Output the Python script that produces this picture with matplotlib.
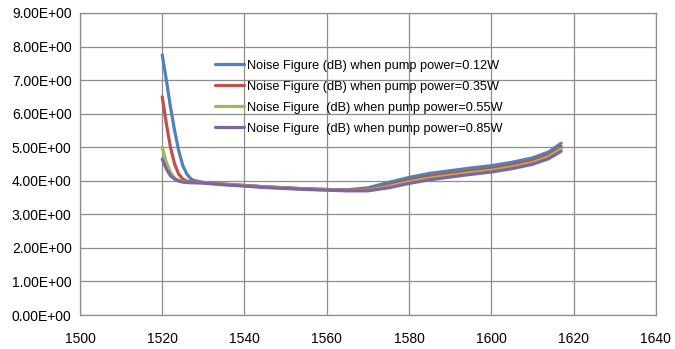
import matplotlib
matplotlib.use("Agg")
import matplotlib.pyplot as plt
from matplotlib.ticker import FuncFormatter

plt.rcParams['font.family'] = ['Liberation Sans', 'DejaVu Sans']

# wavelength (nm)
wl = [1520, 1521, 1522, 1523, 1524, 1525, 1526, 1527, 1528, 1530, 1535, 1540, 1545, 1550,
      1555, 1560, 1565, 1570, 1575, 1580, 1585, 1590, 1595, 1600, 1605, 1610, 1614, 1617]

nf_012 = [7.75, 7.00, 6.20, 5.50, 4.90, 4.45, 4.20, 4.05, 4.00, 3.95, 3.90, 3.86, 3.82, 3.79,
          3.76, 3.74, 3.73, 3.79, 3.95, 4.10, 4.22, 4.30, 4.38, 4.45, 4.55, 4.68, 4.86, 5.12]
nf_035 = [6.50, 5.70, 5.00, 4.50, 4.20, 4.05, 3.99, 3.97, 3.96, 3.95, 3.90, 3.86, 3.82, 3.79,
          3.76, 3.74, 3.72, 3.74, 3.88, 4.02, 4.14, 4.22, 4.30, 4.37, 4.47, 4.60, 4.78, 5.02]
nf_055 = [5.00, 4.55, 4.25, 4.08, 4.01, 3.98, 3.96, 3.95, 3.95, 3.94, 3.89, 3.85, 3.81, 3.78,
          3.75, 3.73, 3.71, 3.72, 3.83, 3.97, 4.08, 4.16, 4.24, 4.31, 4.41, 4.54, 4.72, 4.95]
nf_085 = [4.65, 4.35, 4.15, 4.05, 3.99, 3.96, 3.95, 3.94, 3.94, 3.93, 3.88, 3.84, 3.80, 3.77,
          3.74, 3.72, 3.70, 3.70, 3.79, 3.92, 4.03, 4.11, 4.19, 4.26, 4.36, 4.49, 4.66, 4.88]

labels = ["Noise Figure (dB) when pump power=0.12W",
          "Noise Figure (dB) when pump power=0.35W",
          "Noise Figure  (dB) when pump power=0.55W",
          "Noise Figure  (dB) when pump power=0.85W"]
colors = ["#4F81BD", "#C0504D", "#9BBB59", "#8064A2"]

fig = plt.figure(figsize=(6.75, 3.49), dpi=100)
ax = fig.add_axes([0.1185, 0.0974, 0.853, 0.8654])

for ys, lab, c in zip([nf_012, nf_035, nf_055, nf_085], labels, colors):
    ax.plot(wl, ys, color=c, lw=2.3, label=lab, solid_capstyle='round')

ax.set_xlim(1500, 1640)
ax.set_ylim(0, 9)
ax.set_xticks(range(1500, 1641, 20))
ax.set_yticks(range(0, 10))
ax.yaxis.set_major_formatter(FuncFormatter(lambda v, p: f"{v:.2E}"))
ax.grid(True, color="#8c8c8c", lw=0.9)
ax.set_axisbelow(True)
for s in ax.spines.values():
    s.set_color("#8c8c8c")
    s.set_linewidth(0.9)
ax.tick_params(length=0, labelsize=10, pad=6)
ax.tick_params(axis='x', pad=12)

ax.legend(loc='upper left', bbox_to_anchor=(0.234, 0.845), frameon=False,
          fontsize=9.2, handlelength=2.3, handletextpad=0.2, labelspacing=0.7,
          borderpad=0, borderaxespad=0)

fig.savefig("out.png", dpi=100)
